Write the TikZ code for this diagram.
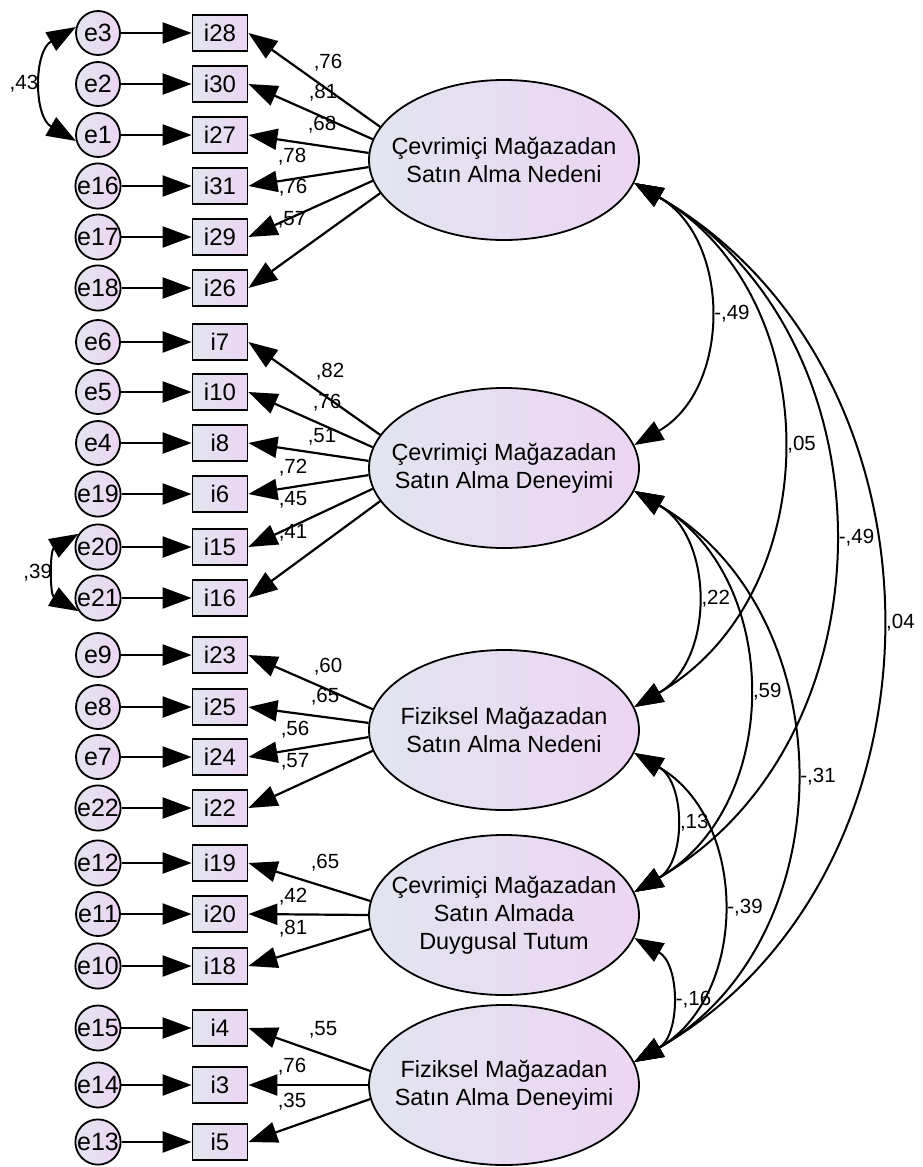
\documentclass[tikz,border=0pt]{standalone}
\usepackage{fontspec}
\setmainfont{Liberation Sans}
\usetikzlibrary{arrows.meta,shapes.geometric}
\definecolor{shadeL}{RGB}{226,229,239}
\definecolor{shadeR}{RGB}{236,213,243}
\tikzset{
  err/.style={circle, draw, line width=1.8pt, minimum size=44pt, inner sep=0pt, left color=shadeL, right color=shadeR, font=\fontsize{25}{25}\selectfont},
  indic/.style={rectangle, draw, line width=1.8pt, minimum width=55pt, minimum height=36pt, inner sep=0pt, left color=shadeL, right color=shadeR, font=\fontsize{24}{24}\selectfont},
  latent/.style={ellipse, draw, line width=1.8pt, minimum width=270pt, minimum height=160pt, left color=shadeL, right color=shadeR},
  latname/.style={align=center, font=\fontsize{23.4}{28}\selectfont},
  coef/.style={inner sep=1pt, font=\fontsize{20.5}{20.5}\selectfont},
  load/.style={-{Triangle[length=29pt,width=21pt]}, line width=2.2pt},
  cov/.style={{Triangle[length=29pt,width=21pt]}-{Triangle[length=29pt,width=21pt]}, line width=2pt, bend left=60, looseness=1.1},
  ecov/.style={cov, bend right=60}
}
\begin{document}
\begin{tikzpicture}[x=1pt, y=-1pt]
\useasboundingbox (0,0) rectangle (923,1167);
\foreach \fac/\yy/\txt in {F1/160/{Çevrimiçi Mağazadan\\Satın Alma Nedeni},
  F2/468/{Çevrimiçi Mağazadan\\Satın Alma Deneyimi},
  F3/730/{Fiziksel Mağazadan\\Satın Alma Nedeni},
  F4/915/{Çevrimiçi Mağazadan\\Satın Almada\\Duygusal Tutum},
  F5/1085/{Fiziksel Mağazadan\\Satın Alma Deneyimi}}{
  \node[latent] (\fac) at (504,\yy) {};
  \node[latname] (t\fac) at (\fac) {\txt};
}
\foreach \ename/\iname/\yy/\fac/\ang/\val/\lx/\ly in {
  e3/i28/33/F1/165/{,76}/328/63,
  e2/i30/84/F1/171/{,81}/323/93,
  e1/i27/135/F1/177/{,68}/322/125,
  e16/i31/186/F1/183/{,78}/292/157,
  e17/i29/237/F1/189/{,76}/293/188,
  e18/i26/288/F1/195/{,57}/292/220,
  e6/i7/342/F2/165/{,82}/330/372,
  e5/i10/392/F2/171/{,76}/327/403,
  e4/i8/443/F2/177/{,51}/322/437,
  e19/i6/494/F2/183/{,72}/293/468,
  e20/i15/547/F2/189/{,45}/293/500,
  e21/i16/598/F2/195/{,41}/293/533,
  e9/i23/655/F3/171/{,60}/328/667,
  e8/i25/707/F3/177/{,65}/325/697,
  e7/i24/757/F3/183/{,56}/295/730,
  e22/i22/808/F3/189/{,57}/295/762,
  e12/i19/863/F4/174/{,65}/325/863,
  e11/i20/914/F4/180/{,42}/293/897,
  e10/i18/966/F4/186/{,81}/293/929,
  e15/i4/1028/F5/174/{,55}/323/1030,
  e14/i3/1085/F5/180/{,76}/292/1067,
  e13/i5/1142/F5/186/{,35}/292/1102}{
  \node[err] (\ename) at (98,\yy) {\ename};
  \node[indic] (\iname) at (220,\yy) {\iname};
  \draw[load] (\ename) -- (\iname);
  \draw[load] (\fac.\ang) -- (\iname.east);
  \node[coef] (l\iname) at (\lx,\ly) {\val};
}
\foreach \fa/\fb/\val in {F1/F2/{-,49}, F1/F3/{,05}, F1/F4/{-,49}, F1/F5/{,04},
  F2/F3/{,22}, F2/F4/{,59}, F2/F5/{-,31}, F3/F4/{,13}, F3/F5/{-,39}, F4/F5/{-,16}}
  \draw[cov] (\fa.-10) to node[coef, right=5pt] (c\fa\fb) {\val} (\fb.10);
\draw[ecov] (e3.165) to node[coef, left=4pt] (c31) {,43} (e1.195);
\draw[ecov] (e20.146) to node[coef, left=3pt] (c2021) {,39} (e21.214);
\end{tikzpicture}
\end{document}
